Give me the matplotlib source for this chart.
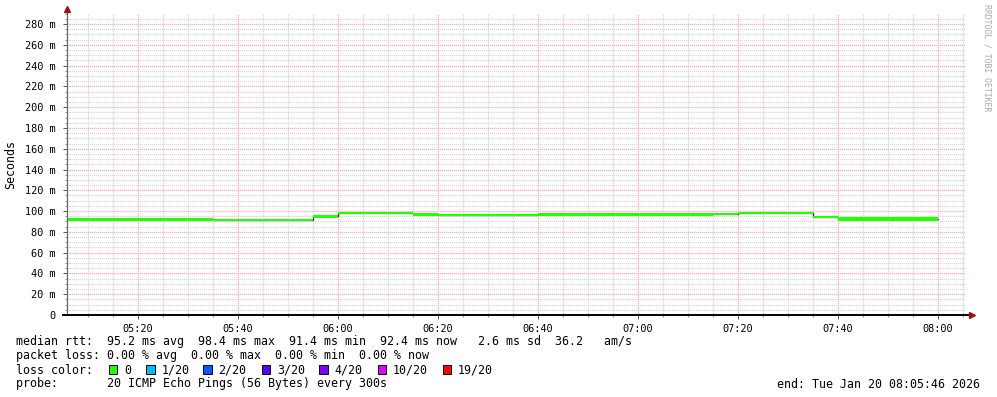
import matplotlib

matplotlib.use("Agg")

import matplotlib.dates as mdates
import matplotlib.pyplot as plt
import numpy as np
import pandas as pd
from matplotlib.patches import Rectangle
from matplotlib.ticker import FuncFormatter, MultipleLocator

# --- data ------------------------------------------------------------------

END = pd.Timestamp("2026-01-20 08:05:46")
START = END - pd.Timedelta(hours=3)

# one sample every 300 s, value holds until the next sample
sample_times = pd.date_range("2026-01-20 05:05", "2026-01-20 07:55", freq="5min")

median_ms = [92.1, 92.1, 92.1, 92.1, 92.1, 92.1,
             91.5,
             91.4, 91.4, 91.4,
             94.9,
             98.4, 98.4, 98.4,
             96.8,
             96.3, 96.3, 96.3, 96.3,
             96.9, 96.9, 96.9, 96.9, 96.9, 96.9, 96.9,
             97.1,
             98.2, 98.2, 98.2,
             94.5,
             92.4, 92.4, 92.4, 92.4]

# half thickness of the drawn median band (ms)
spread_ms = [1.5, 1.5, 1.5, 1.5, 1.5, 1.5,
             0.9,
             1.35, 1.35, 1.35,
             1.35,
             1.05, 1.05, 1.05,
             1.35,
             1.15, 1.15, 1.15, 1.15,
             1.5, 1.5, 1.5, 1.5, 1.5, 1.5, 1.5,
             1.05,
             1.15, 1.15, 1.15,
             1.05,
             1.5, 1.5, 1.5, 1.5]

loss_labels = ["0", "1/20", "2/20", "3/20", "4/20", "10/20", "19/20"]
loss_colors = ["#26ff00", "#00b8ff", "#0059ff", "#5e00ff", "#7e00ff",
               "#dd00ff", "#ff0000"]

legend_lines = [
    "median rtt:  95.2 ms avg  98.4 ms max  91.4 ms min  92.4 ms now   2.6 ms sd  36.2   am/s",
    "packet loss: 0.00 % avg  0.00 % max  0.00 % min  0.00 % now",
    "loss color:",
    "probe:       20 ICMP Echo Pings (56 Bytes) every 300s",
]
end_label = "end: " + END.strftime("%a %b %d %H:%M:%S %Y")

# --- style -----------------------------------------------------------------

W, H = 997, 397
MONO = "DejaVu Sans Mono"
GREEN = "#26ff00"
MGRID = "#f5b4b4"
GRID = "#d9d9d9"
ARROW = "#8b1a1a"
YMAX = 290.6

plt.rcParams.update({"font.family": MONO, "text.color": "#000000"})

fig = plt.figure(figsize=(W / 100, H / 100), dpi=100)
fig.patch.set_facecolor("white")

x0, x1 = 66.5, 966.5
ytop, ybot = 13, 315
ax = fig.add_axes([x0 / W, 1 - ybot / H, (x1 - x0) / W, (ybot - ytop) / H])
ax.set_facecolor("white")

# --- dotted rrdtool style grid (one dot every 2 px) ---------------------------

t_lo, t_hi = mdates.date2num(START), mdates.date2num(END)
dx = (t_hi - t_lo) / (x1 - x0) * 2
dy = YMAX / (ybot - ytop) * 2
xs_dots = np.arange(t_lo, t_hi, dx)
ys_dots = np.arange(0, YMAX, dy)


def dotted(xx, yy, color, z):
    ax.plot(xx, yy, ls="none", marker="s", ms=0.9, mew=0, color=color,
            antialiased=False, zorder=z)


minor_t = pd.date_range("2026-01-20 05:10", "2026-01-20 08:05", freq="5min")
for tm in minor_t:
    major = tm.minute % 20 == 0
    v = mdates.date2num(tm)
    dotted(np.full_like(ys_dots, v), ys_dots, MGRID if major else GRID,
           2 if major else 1)
for yv in range(5, 290, 5):
    major = yv % 20 == 0
    dotted(xs_dots, np.full_like(xs_dots, yv), MGRID if major else GRID,
           2 if major else 1)

# --- data marks ------------------------------------------------------------

t = list(sample_times) + [sample_times[-1] + pd.Timedelta(minutes=5)]
med = median_ms + [median_ms[-1]]
spr = spread_ms + [spread_ms[-1]]
lo = [m - s for m, s in zip(med, spr)]
hi = [m + s for m, s in zip(med, spr)]

ax.step(t, med, where="post", color="#333333", lw=0.9, zorder=3)
ax.fill_between(t, lo, hi, step="post", color=GREEN, lw=0, zorder=4)

# --- axes ------------------------------------------------------------------

ax.set_xlim(START, END)
ax.set_ylim(0, YMAX)

ax.xaxis.set_major_locator(mdates.MinuteLocator(byminute=range(0, 60, 20)))
ax.xaxis.set_minor_locator(mdates.MinuteLocator(byminute=range(0, 60, 5)))
ax.xaxis.set_major_formatter(mdates.DateFormatter("%H:%M"))
ax.yaxis.set_major_locator(MultipleLocator(20))
ax.yaxis.set_minor_locator(MultipleLocator(5))
ax.yaxis.set_major_formatter(FuncFormatter(lambda v, _: "0" if v == 0 else f"{v:.0f} m"))

for s in ax.spines.values():
    s.set_visible(False)

ax.tick_params(which="major", length=3, width=0.7, color="#555555",
               labelsize=7.4, direction="out")
ax.tick_params(which="minor", length=1.5, width=0.6, color="#777777",
               direction="out")
ax.tick_params(axis="y", which="major", pad=5)
ax.tick_params(axis="x", which="major", pad=3.5)

# axis lines with arrows
ax.plot([0, 0], [0, 1.0 + 2 / (ybot - ytop)], transform=ax.transAxes,
        color="#666666", lw=0.9, clip_on=False, zorder=5)
ax.plot([-4 / (x1 - x0), 1.0 + 3 / (x1 - x0)], [0, 0], transform=ax.transAxes,
        color="#000000", lw=1.4, clip_on=False, zorder=5)
ax.plot([0], [1.0 + 4 / (ybot - ytop)], marker="^", ms=4.5, color=ARROW,
        transform=ax.transAxes, clip_on=False, zorder=6)
ax.plot([1.0 + 5 / (x1 - x0)], [0], marker=">", ms=4.5, color=ARROW,
        transform=ax.transAxes, clip_on=False, zorder=6)

fig.text(11 / W, 1 - 164 / H, "Seconds", rotation=90, ha="center",
         va="center", fontsize=8.4)
fig.text(987 / W, 1 - 4 / H, "RRDTOOL / TOBI OETIKER", rotation=270,
         ha="center", va="top", fontsize=5.9, color="#aaaaaa")

# --- legend ----------------------------------------------------------------

baselines = [345.5, 359.5, 373.5, 387.5]
for text, yb in zip(legend_lines, baselines):
    fig.text(16 / W, 1 - yb / H, text, ha="left", va="baseline", fontsize=8.4)

box_x = [108.7, 146.0, 203.3, 261.7, 319.3, 377.7, 442.7]
for bx, lab, col in zip(box_x, loss_labels, loss_colors):
    fig.patches.append(Rectangle((bx / W, 1 - 374 / H), 8.7 / W, 8.7 / H,
                                 transform=fig.transFigure, facecolor=col,
                                 edgecolor="#000000", lw=0.7))
    fig.text((bx + 15.3) / W, 1 - baselines[2] / H, lab, ha="left",
             va="baseline", fontsize=8.4)

fig.text(980 / W, 1 - baselines[3] / H, end_label, ha="right",
         va="baseline", fontsize=8.4)

fig.savefig("out.png", dpi=100, facecolor="white")
